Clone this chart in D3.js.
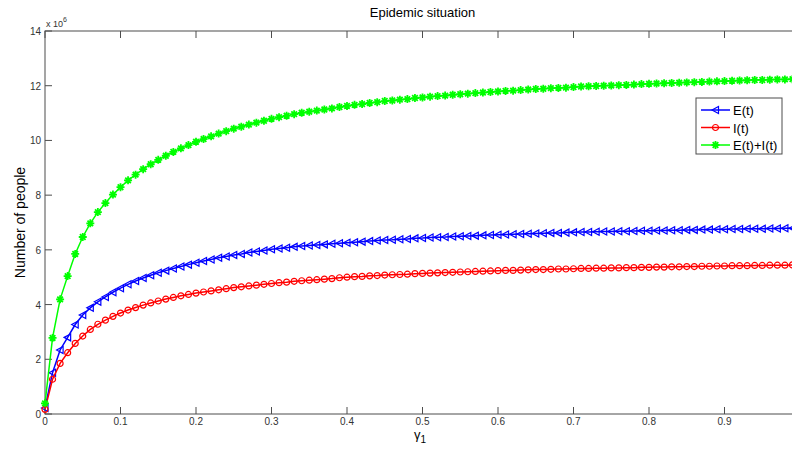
<!DOCTYPE html>
<html>
<head>
<meta charset="utf-8">
<script src="https://cdnjs.cloudflare.com/ajax/libs/d3/7.8.5/d3.min.js"></script>
<style>
	body{ margin:0; background:#fff; }
	svg{ display:block; font-family:"Liberation Sans", Arial, sans-serif; }
	.tick-label{ font-size:10px; fill:#333; }
</style>
</head>
<body>
<svg width="792" height="450"></svg>
<script>
// gamma_1 values, step 0.01
let gamma = d3.range(100).map(k => k / 100);

// E(t), unit 10^6 people
let seriesE = [0.22,1.51,2.34,2.80,3.27,3.62,3.88,4.10,4.28,4.45,
	4.60,4.74,4.86,4.97,5.07,5.16,5.24,5.32,5.39,5.46,
	5.53,5.59,5.65,5.71,5.76,5.81,5.85,5.90,5.94,5.98,
	6.02,6.05,6.08,6.11,6.14,6.16,6.18,6.20,6.22,6.24,
	6.26,6.28,6.30,6.32,6.34,6.36,6.37,6.39,6.40,6.42,
	6.43,6.45,6.46,6.47,6.49,6.50,6.51,6.52,6.53,6.54,
	6.55,6.56,6.57,6.58,6.59,6.60,6.61,6.62,6.62,6.63,
	6.64,6.65,6.65,6.66,6.67,6.67,6.68,6.68,6.69,6.70,
	6.70,6.71,6.71,6.72,6.72,6.73,6.73,6.74,6.74,6.75,
	6.75,6.76,6.76,6.77,6.77,6.77,6.78,6.78,6.79,6.79];

// I(t), unit 10^6 people
let seriesI = [0.17,1.27,1.85,2.24,2.58,2.85,3.09,3.28,3.43,3.57,
	3.69,3.80,3.89,3.98,4.06,4.13,4.20,4.26,4.32,4.37,
	4.42,4.46,4.50,4.54,4.58,4.62,4.65,4.68,4.71,4.74,
	4.77,4.80,4.82,4.85,4.87,4.89,4.91,4.93,4.95,4.98,
	5.00,5.02,5.03,5.05,5.06,5.08,5.09,5.10,5.11,5.13,
	5.14,5.15,5.16,5.17,5.18,5.19,5.20,5.21,5.22,5.23,
	5.24,5.25,5.25,5.26,5.27,5.28,5.28,5.29,5.30,5.30,
	5.31,5.32,5.32,5.33,5.33,5.34,5.34,5.35,5.35,5.36,
	5.36,5.37,5.37,5.38,5.38,5.39,5.39,5.40,5.40,5.41,
	5.41,5.42,5.42,5.42,5.43,5.43,5.44,5.44,5.44,5.45];

// E(t)+I(t), unit 10^6 people
let seriesEI = [0.39,2.78,4.19,5.04,5.85,6.47,6.97,7.38,7.71,8.02,
	8.29,8.54,8.75,8.95,9.13,9.29,9.44,9.58,9.71,9.83,
	9.95,10.05,10.15,10.25,10.34,10.43,10.50,10.58,10.65,10.72,
	10.79,10.85,10.90,10.96,11.01,11.05,11.09,11.13,11.17,11.22,
	11.26,11.30,11.33,11.37,11.40,11.44,11.46,11.49,11.51,11.55,
	11.57,11.60,11.62,11.64,11.67,11.69,11.71,11.73,11.75,11.77,
	11.79,11.81,11.82,11.84,11.86,11.88,11.89,11.91,11.92,11.93,
	11.95,11.97,11.98,11.99,12.00,12.01,12.02,12.03,12.04,12.06,
	12.07,12.08,12.09,12.10,12.11,12.12,12.13,12.14,12.15,12.16,
	12.17,12.18,12.19,12.20,12.21,12.21,12.22,12.23,12.23,12.24];

let xTicks = [0,0.1,0.2,0.3,0.4,0.5,0.6,0.7,0.8,0.9];
let yTicks = [0,2,4,6,8,10,12,14];
let legendNames = ["E(t)", "I(t)", "E(t)+I(t)"];
let colors = ["#0000ff", "#ff0000", "#00ff00"];

let svg = d3.select("svg");
let plotLeft = 45, plotRight = 800, plotTop = 31, plotBottom = 414;
let tickLen = 7;
let axisColor = "#4d4d4d";

let xScale = d3.scaleLinear().domain([0, 1]).range([plotLeft, plotRight]);
let yScale = d3.scaleLinear().domain([0, 14]).range([plotBottom, plotTop]);

initAxis();
drawLines();
drawLegend();

function initAxis(){
	// box
	svg.append("rect")
		.attr("x", plotLeft).attr("y", plotTop)
		.attr("width", plotRight - plotLeft).attr("height", plotBottom - plotTop)
		.attr("fill", "none")
		.attr("stroke", axisColor)
		.attr("stroke-width", 1);

	// inward ticks, bottom & top
	let xt = svg.append("g").attr("class", "xticks");
	xt.selectAll(".tb").data(xTicks).enter().append("line")
		.attr("x1", d => xScale(d)).attr("x2", d => xScale(d))
		.attr("y1", plotBottom).attr("y2", plotBottom - tickLen)
		.attr("stroke", axisColor);
	xt.selectAll(".tt").data(xTicks).enter().append("line")
		.attr("x1", d => xScale(d)).attr("x2", d => xScale(d))
		.attr("y1", plotTop).attr("y2", plotTop + tickLen)
		.attr("stroke", axisColor);
	xt.selectAll("text").data(xTicks).enter().append("text")
		.attr("class", "tick-label")
		.attr("x", d => xScale(d))
		.attr("y", plotBottom + 11)
		.attr("text-anchor", "middle")
		.text(d => d);

	// left & right
	let yt = svg.append("g").attr("class", "yticks");
	yt.selectAll(".tl").data(yTicks).enter().append("line")
		.attr("x1", plotLeft).attr("x2", plotLeft + tickLen)
		.attr("y1", d => yScale(d)).attr("y2", d => yScale(d))
		.attr("stroke", axisColor);
	yt.selectAll(".tr").data(yTicks).enter().append("line")
		.attr("x1", plotRight).attr("x2", plotRight - tickLen)
		.attr("y1", d => yScale(d)).attr("y2", d => yScale(d))
		.attr("stroke", axisColor);
	yt.selectAll("text").data(yTicks).enter().append("text")
		.attr("class", "tick-label")
		.attr("x", plotLeft - 4)
		.attr("y", d => yScale(d) + 4)
		.attr("text-anchor", "end")
		.text(d => d);

	// x 10^6
	let ex = svg.append("text")
		.attr("x", plotLeft + 1).attr("y", plotTop - 4)
		.style("font-size", "9px").style("fill", "#333");
	ex.append("tspan").text("x 10");
	ex.append("tspan").attr("dy", -5).style("font-size", "7px").text("6");

	// title
	svg.append("text")
		.attr("x", (plotLeft + plotRight) / 2).attr("y", 17)
		.attr("text-anchor", "middle")
		.style("font-size", "13px")
		.text("Epidemic situation");

	// x label
	let xl = svg.append("text")
		.attr("x", 420).attr("y", 439)
		.attr("text-anchor", "middle")
		.style("font-size", "13px");
	xl.append("tspan").text("γ");
	xl.append("tspan").attr("dy", 4).style("font-size", "10px").text("1");

	// y label
	svg.append("text")
		.attr("transform", `translate(25, ${(plotTop + plotBottom) / 2}) rotate(-90)`)
		.attr("text-anchor", "middle")
		.style("font-size", "14px")
		.text("Number of people");
}

function markerPath(type){
	if(type === 0){  // left triangle
		return "M-3.5,0 L3,-3.5 L3,3.5 Z";
	}
	if(type === 2){  // asterisk
		return "M-4,0 L4,0 M0,-4 L0,4 M-2.8,-2.8 L2.8,2.8 M-2.8,2.8 L2.8,-2.8";
	}
	return null;
}

function drawMarker(g, type, color){
	if(type === 1){
		g.append("circle")
			.attr("r", 3)
			.attr("fill", "none")
			.attr("stroke", color)
			.attr("stroke-width", 1.2);
	}else{
		g.append("path")
			.attr("d", markerPath(type))
			.attr("fill", "none")
			.attr("stroke", color)
			.attr("stroke-width", type === 2 ? 1.8 : 1.2);
	}
}

function drawLines(){
	let allSeries = [seriesE, seriesI, seriesEI];
	let line = d3.line()
		.x((d, i) => xScale(gamma[i]))
		.y(d => yScale(d));

	allSeries.forEach((s, idx) => {
		let g = svg.append("g").attr("class", "series");
		g.append("path")
			.datum(s)
			.attr("d", line)
			.attr("fill", "none")
			.attr("stroke", colors[idx])
			.attr("stroke-width", 1.5);

		g.selectAll(".mk").data(s).enter().append("g")
			.attr("class", "mk")
			.attr("transform", (d, i) => `translate(${xScale(gamma[i])}, ${yScale(d)})`)
			.each(function(){
				drawMarker(d3.select(this), idx, colors[idx]);
			});
	});
}

function drawLegend(){
	let lg = svg.append("g").attr("class", "legend");
	lg.append("rect")
		.attr("x", 696).attr("y", 98)
		.attr("width", 86).attr("height", 56)
		.attr("fill", "#fff")
		.attr("stroke", axisColor);

	legendNames.forEach((name, i) => {
		let y = 110 + i * 17.5;
		lg.append("line")
			.attr("x1", 701).attr("x2", 730)
			.attr("y1", y).attr("y2", y)
			.attr("stroke", colors[i])
			.attr("stroke-width", 1.5);
		let m = lg.append("g").attr("transform", `translate(715.5, ${y})`);
		drawMarker(m, i, colors[i]);
		lg.append("text")
			.attr("x", 733).attr("y", y + 5)
			.style("font-size", "13px")
			.text(name);
	});
}
</script>
</body>
</html>
